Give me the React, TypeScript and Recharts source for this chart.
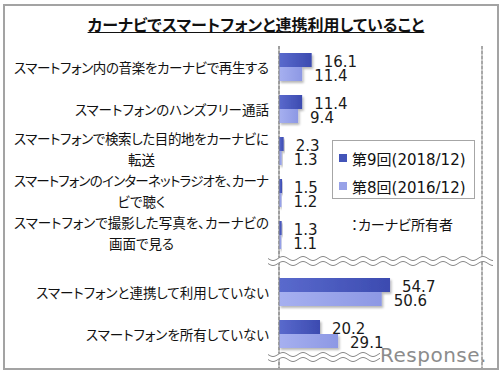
import React, { useLayoutEffect, useRef, useState } from 'react';
import { BarChart, Bar, XAxis, YAxis, CartesianGrid, LabelList, Legend, ReferenceLine } from 'recharts';

const titleText = 'カーナビでスマートフォンと連携利用していること';
const noteText = '：カーナビ所有者';
const watermarkText = 'Response.';

const topCategories = [
  'スマートフォン内の音楽をカーナビで再生する',
  'スマートフォンのハンズフリー通話',
  'スマートフォンで検索した目的地をカーナビに\n転送',
  'スマートフォンのインターネットラジオを、カーナ\nビで聴く',
  'スマートフォンで撮影した写真を、カーナビの\n画面で見る',
];
const topRound9 = [16.1, 11.4, 2.3, 1.5, 1.3];
const topRound8 = [11.4, 9.4, 1.3, 1.2, 1.1];

const bottomCategories = ['スマートフォンと連携して利用していない', 'スマートフォンを所有していない'];
const bottomRound9 = [54.7, 20.2];
const bottomRound8 = [50.6, 29.1];

const seriesNames = ['第9回(2018/12)', '第8回(2016/12)'];
const seriesKeys = ['r9', 'r8'];
const xTicks = [0, 20, 40, 60, 80, 100];

const topData = topCategories.map((cat, i) => ({ cat, r9: topRound9[i], r8: topRound8[i] }));
const bottomData = bottomCategories.map((cat, i) => ({ cat, r9: bottomRound9[i], r8: bottomRound8[i] }));

const solid: Record<string, string> = { r9: '#4354b8', r8: '#98a2e8' };

const jpFont = '"Noto Sans CJK JP", sans-serif';
const numFont = '"DejaVu Sans", "Noto Sans CJK JP", sans-serif';
const MAX_LABEL_W = 255;

const CatTick = (props: any) => {
  const { x, y, payload } = props;
  const lines = String(payload.value).split('\n');
  const ref = useRef<SVGTextElement>(null);
  const [w, setW] = useState(0);
  useLayoutEffect(() => {
    if (ref.current) setW(ref.current.getComputedTextLength());
  }, [payload.value]);
  const lh = 21;
  const shift = lines.length > 1 ? -3 : 0;
  const y0 = y - ((lines.length - 1) * lh) / 2 + shift;
  const style: any = { fontFeatureSettings: '"palt"' };
  const fitted = w > MAX_LABEL_W;
  const w1 = fitted ? MAX_LABEL_W : w;
  return (
    <g>
      {lines.map((l, i) => (
        <text
          key={i}
          ref={i === 0 ? ref : undefined}
          x={i === 0 ? x : x - w1 / 2}
          y={y0 + i * lh}
          textAnchor={i === 0 ? 'end' : 'middle'}
          dominantBaseline="central"
          fontSize={13.5}
          fontFamily={jpFont}
          fill="#111"
          style={style}
          {...(i === 0 && fitted ? { textLength: MAX_LABEL_W, lengthAdjust: 'spacing' } : {})}
        >
          {l}
        </text>
      ))}
    </g>
  );
};

const renderValue = (props: any) => {
  const { x, y, width, height, value } = props;
  return (
    <text
      x={Number(x) + Number(width) + 12}
      y={Number(y) + Number(height) / 2 + 1.5}
      dominantBaseline="central"
      fontSize={15}
      fontFamily={numFont}
      fill="#1a1a1a"
    >
      {value}
    </text>
  );
};

const ShadowBar = (props: any) => {
  const { x, y, width, height, fill } = props;
  if (!width || width <= 0) return <g />;
  return <rect x={x} y={y} width={width} height={height} fill={fill} filter="url(#barShadow)" />;
};

const LegendBox = (props: any) => {
  const payload = [...(props.payload || [])].sort(
    (a: any, b: any) => seriesKeys.indexOf(a.dataKey) - seriesKeys.indexOf(b.dataKey)
  );
  return (
    <div
      style={{
        width: 143,
        height: 59,
        boxSizing: 'border-box',
        border: '1px solid #a6a6a6',
        background: '#fff',
        paddingTop: 3,
        paddingLeft: 6,
      }}
    >
      {payload.map((p: any, i: number) => (
        <div key={i} style={{ height: 28, display: 'flex', alignItems: 'center' }}>
          <span
            style={{
              display: 'inline-block',
              width: 8,
              height: 8,
              background: solid[p.dataKey] || p.color,
              marginRight: 5,
            }}
          />
          <span style={{ fontSize: 15, fontFamily: numFont, color: '#111', whiteSpace: 'nowrap' }}>{p.value}</span>
        </div>
      ))}
    </div>
  );
};

function wave(y: number, x0: number, x1: number) {
  let d = '';
  for (let x = x0; x <= x1; x += 1) {
    const yy = y + 2 * Math.sin(((x - x0) / 20) * 2 * Math.PI);
    d += (x === x0 ? 'M' : 'L') + x + ' ' + yy.toFixed(2) + ' ';
  }
  return d;
}

const Defs = () => (
  <defs>
    <linearGradient id="gDark" x1="0" y1="0" x2="1" y2="0">
      <stop offset="0%" stopColor="#5a6acd" />
      <stop offset="100%" stopColor="#3c4bb0" />
    </linearGradient>
    <linearGradient id="gLight" x1="0" y1="0" x2="1" y2="0">
      <stop offset="0%" stopColor="#a6b0f0" />
      <stop offset="100%" stopColor="#8d98e4" />
    </linearGradient>
    <filter id="barShadow" x="-10%" y="-30%" width="130%" height="180%">
      <feDropShadow dx="1.5" dy="2" stdDeviation="1.2" floodColor="#000" floodOpacity="0.28" />
    </filter>
  </defs>
);

function Section({ data, height, padding, withLegend, topLine }: any) {
  return (
    <BarChart
      width={500}
      height={height}
      data={data}
      layout="vertical"
      margin={{ top: 0, right: 18, bottom: 0, left: 0 }}
      barGap={0}
      barSize={14}
    >
      {Defs()}
      <CartesianGrid horizontal={false} strokeDasharray="3 2" stroke="#6e6e6e" />
      <XAxis
        type="number"
        domain={[0, 100]}
        ticks={xTicks}
        orientation="top"
        height={0}
        tick={false}
        tickLine={false}
        axisLine={topLine ? { stroke: '#9a9a9a' } : false}
      />
      <YAxis
        type="category"
        dataKey="cat"
        width={279}
        tickSize={0}
        tickMargin={10}
        tick={<CatTick />}
        tickLine={false}
        axisLine={{ stroke: '#858585' }}
        padding={padding}
        interval={0}
      />
      <ReferenceLine x={100} stroke="#9a9a9a" />
      <Bar dataKey="r9" name={seriesNames[0]} fill="url(#gDark)" shape={<ShadowBar />} isAnimationActive={false}>
        <LabelList dataKey="r9" content={renderValue} />
      </Bar>
      <Bar dataKey="r8" name={seriesNames[1]} fill="url(#gLight)" shape={<ShadowBar />} isAnimationActive={false}>
        <LabelList dataKey="r8" content={renderValue} />
      </Bar>
      {withLegend ? (
        <Legend
          layout="vertical"
          align="center"
          verticalAlign="middle"
          content={<LegendBox />}
          wrapperStyle={{ left: 332, top: 94, width: 143, height: 59 }}
        />
      ) : null}
    </BarChart>
  );
}

export default function App() {
  return (
    <div style={{ position: 'absolute', left: 0, top: 0, width: 500, height: 375, background: '#fff', overflow: 'hidden' }}>
      <div
        style={{
          position: 'absolute',
          left: 3,
          top: 4,
          width: 496,
          height: 366,
          boxSizing: 'border-box',
          border: '2px solid #a3a3a3',
        }}
      />
      <div
        style={{
          position: 'absolute',
          left: 0,
          top: 12,
          width: 512,
          textAlign: 'center',
          fontFamily: jpFont,
          fontWeight: 700,
          fontSize: 16,
          lineHeight: '24px',
          fontFeatureSettings: '"palt"',
          textDecoration: 'underline',
          color: '#111',
        }}
      >
        {titleText}
      </div>
      <div style={{ position: 'absolute', left: 0, top: 46 }}>
        <Section data={topData} height={216} padding={{ top: 0, bottom: 6 }} withLegend topLine />
      </div>
      <div style={{ position: 'absolute', left: 0, top: 262 }}>
        <Section data={bottomData} height={106} padding={{ top: 9, bottom: 13 }} />
      </div>
      <div
        style={{
          position: 'absolute',
          left: 351,
          top: 214,
          fontFamily: jpFont,
          fontSize: 14,
          lineHeight: '20px',
          fontFeatureSettings: '"palt"',
          color: '#111',
          whiteSpace: 'nowrap',
        }}
      >
        {noteText}
      </div>
      <svg width={500} height={375} style={{ position: 'absolute', left: 0, top: 0, pointerEvents: 'none' }}>
        <path d={wave(261, 268, 493)} stroke="#fff" strokeWidth={5} fill="none" />
        <path d={wave(258.5, 268, 493)} stroke="#8a8a8a" strokeWidth={1} fill="none" />
        <path d={wave(263.5, 268, 493)} stroke="#8a8a8a" strokeWidth={1} fill="none" />
        <path d={wave(357, 268, 380)} stroke="#fff" strokeWidth={5} fill="none" />
        <path d={wave(354.5, 268, 380)} stroke="#8a8a8a" strokeWidth={1} fill="none" />
        <path d={wave(359.5, 268, 380)} stroke="#8a8a8a" strokeWidth={1} fill="none" />
      </svg>
      <div
        style={{
          position: 'absolute',
          left: 380,
          top: 345,
          fontFamily: numFont,
          fontSize: 20,
          lineHeight: '20px',
          letterSpacing: 0.5,
          color: '#8c8c8c',
          whiteSpace: 'nowrap',
        }}
      >
        {watermarkText}
      </div>
    </div>
  );
}
